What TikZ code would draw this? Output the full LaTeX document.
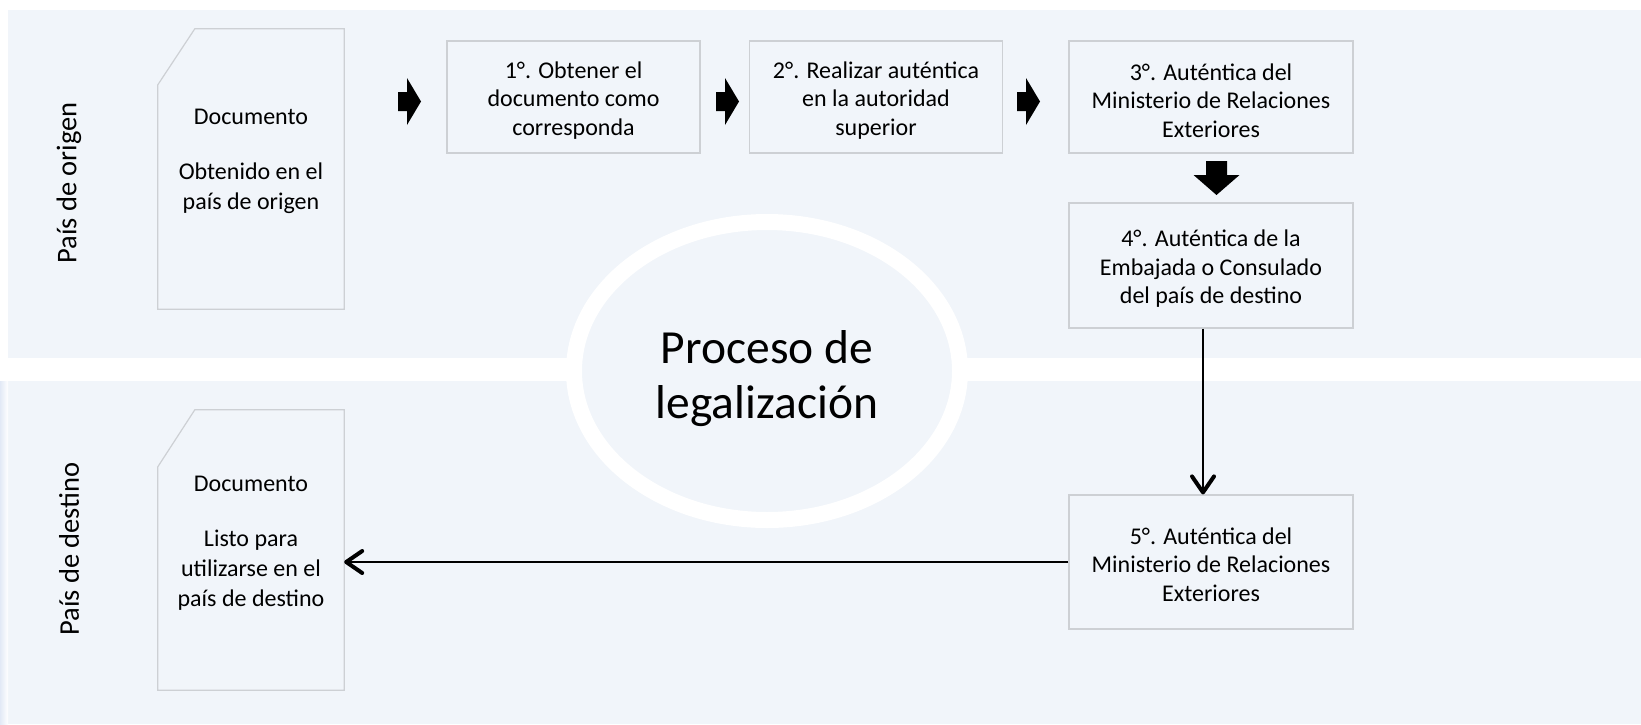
\documentclass[tikz,border=0pt]{standalone}
\usepackage{fontspec}
\setmainfont{Carlito}
\usetikzlibrary{arrows.meta,shapes.geometric}
\definecolor{bandcol}{RGB}{241,245,250}
\definecolor{boxline}{RGB}{205,208,212}
\definecolor{edgeblue}{RGB}{226,233,246}
\tikzset{
  stepbox/.style={draw=boxline, line width=1.2pt, fill=bandcol, inner sep=0pt,
    minimum width=253pt},
  steptext/.style={align=center, inner sep=0pt, font=\fontsize{24}{28.5}\selectfont},
  docshape/.style={draw=none, inner sep=0pt, minimum width=186pt, minimum height=280pt},
  docline/.style={draw=boxline, line width=1.2pt, fill=bandcol},
  doctext/.style={align=center, inner sep=0pt, font=\fontsize{24}{30}\selectfont},
  lanelabel/.style={rotate=90, inner sep=0pt, font=\fontsize{28.5}{33}\selectfont},
  conn/.style={line width=2pt, -{Straight Barb[length=16pt,width=22pt,line width=0pt 2,round]}},
  rarrow/.pic={\fill[black] (0,-9.5) -- (9,-9.5) -- (9,-23.5) -- (23,0) -- (9,23.5) -- (9,9.5) -- (0,9.5) -- cycle;},
  darrow/.pic={\fill[black] (-10.5,0) -- (10.5,0) -- (10.5,14) -- (23,14) -- (0,34) -- (-23,14) -- (-10.5,14) -- cycle;}
}
\begin{document}
\begin{tikzpicture}[x=1pt,y=-1pt]
\useasboundingbox (0,0) rectangle (1641,724);
\fill[white] (0,0) rectangle (1641,724);
% lanes
\fill[bandcol] (8,10) rectangle (1641,358);
\fill[bandcol] (8,381) rectangle (1641,724);
\shade[left color=edgeblue, right color=white] (0,381) rectangle (8,724);
% central ellipse
\node[ellipse, draw=white, line width=16pt, fill=bandcol, inner sep=0pt,
      minimum width=386pt, minimum height=298pt] (ell) at (767,371) {};
\node[align=center, inner sep=0pt, font=\fontsize{47.5}{55}\selectfont] (title) at (767,379) {Proceso de\\legalización};
% lane labels
\node[lanelabel] (lo) at (69,183) {País de origen};
\node[lanelabel] (ld) at (69,549) {País de destino};
% documents
\node[docshape] (d1) at (251,169) {};
\draw[docline] ([xshift=37pt]d1.north west) -- (d1.north east) -- (d1.south east) -- (d1.south west) -- ([yshift=-56pt]d1.north west) -- cycle;
\node[doctext] (t1) at (251,161) {Documento\\[25pt]Obtenido en el\\país de origen};
\node[docshape] (d2) at (251,550) {};
\draw[docline] ([xshift=37pt]d2.north west) -- (d2.north east) -- (d2.south east) -- (d2.south west) -- ([yshift=-57pt]d2.north west) -- cycle;
\node[doctext] (t2) at (251,543) {Documento\\[25pt]Listo para\\utilizarse en el\\país de destino};
% step boxes
\node[stepbox, minimum height=112pt] (b1) at (573.5,97) {};
\node[steptext] (b1t) at ([yshift=-3.5pt]b1.center) {1°. Obtener el\\documento como\\corresponda};
\node[stepbox, minimum height=112pt] (b2) at (876,97) {};
\node[steptext] (b2t) at ([yshift=-3.5pt]b2.center) {2°. Realizar auténtica\\en la autoridad\\superior};
\node[stepbox, minimum width=284pt, minimum height=112pt] (b3) at (1211,97) {};
\node[steptext] (b3t) at ([yshift=-3.5pt]b3.center) {3°. Auténtica del\\Ministerio de Relaciones\\Exteriores};
\node[stepbox, minimum width=284pt, minimum height=125pt] (b4) at (1211,265.5) {};
\node[steptext] (b4t) at ([yshift=-3.5pt]b4.center) {4°. Auténtica de la\\Embajada o Consulado\\del país de destino};
\node[stepbox, minimum width=284pt, minimum height=134pt] (b5) at (1211,562) {};
\node[steptext] (b5t) at ([yshift=-2.5pt]b5.center) {5°. Auténtica del\\Ministerio de Relaciones\\Exteriores};
% block arrows
\pic at (398,101.5) {rarrow};
\pic at (716,101.5) {rarrow};
\pic at (1017,101.5) {rarrow};
\pic at (1216.5,161) {darrow};
% connectors
\coordinate (lx) at (1203,0);
\draw[conn] (b4.south -| lx) -- (b5.north -| lx);
\draw[conn] (b5.west) -- (d2.east |- b5.west);
\end{tikzpicture}
\end{document}
